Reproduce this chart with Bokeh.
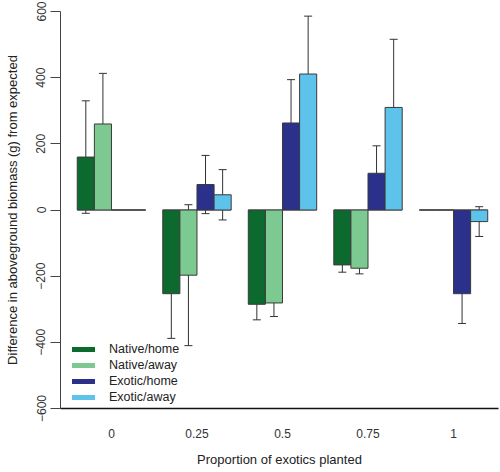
import numpy as np
from bokeh.plotting import figure
from bokeh.models import ColumnDataSource, Whisker, TeeHead, FixedTicker, Legend, LegendItem
from bokeh.embed import file_html
from bokeh.resources import INLINE

groups = ["0", "0.25", "0.5", "0.75", "1"]
series = ["Native/home", "Native/away", "Exotic/home", "Exotic/away"]

native_home = [160, -253, -285, -166, 0]
native_home_err = [170, 135, 47, 22, 0]
native_away = [260, -197, -281, -176, 0]
native_away_err = [153, 213, 41, 17, 0]
exotic_home = [0, 77, 263, 111, -253]
exotic_home_err = [0, 88, 131, 83, 90]
exotic_away = [0, 46, 411, 310, -35]
exotic_away_err = [0, 76, 175, 206, 45]

values = [native_home, native_away, exotic_home, exotic_away]
errors = [native_home_err, native_away_err, exotic_home_err, exotic_away_err]
colors = ["#0d6a2e", "#7cc992", "#2b308b", "#5ec3ea"]
offsets = [-0.3, -0.1, 0.1, 0.3]
FONT = "Liberation Sans"

p = figure(width=500, height=472, x_range=(-0.596, 4.526), y_range=(-600, 600),
           output_backend="svg", toolbar_location=None,
           min_border_top=11, min_border_left=60, min_border_right=2, min_border_bottom=64)
p.outline_line_color = None
p.xgrid.visible = False
p.ygrid.visible = False

gx = np.arange(len(groups))

# zero baseline segments for each group
p.segment(x0=gx - 0.4, x1=gx + 0.4, y0=np.zeros(len(groups)), y1=np.zeros(len(groups)),
          line_color="#555555", line_width=1)

for vals, errs, col, off in zip(values, errors, colors, offsets):
    xs = gx + off
    src = ColumnDataSource(dict(x=xs, top=vals))
    p.vbar(x="x", top="top", bottom=0, width=0.2, source=src,
           fill_color=col, line_color="#3a3a3a", line_width=1)
    wx, wu, wl = [], [], []
    for x, v, e in zip(xs, vals, errs):
        if e > 0:
            wx.append(x); wu.append(v + e); wl.append(v - e)
    wsrc = ColumnDataSource(dict(x=wx, upper=wu, lower=wl))
    w = Whisker(source=wsrc, base="x", upper="upper", lower="lower",
                line_color="#333333", line_width=1,
                upper_head=TeeHead(size=8, line_color="#333333", line_width=1),
                lower_head=TeeHead(size=8, line_color="#333333", line_width=1))
    p.add_layout(w)

# legend (line swatches)
items = []
for name, col in zip(series, colors):
    r = p.line(x=[np.nan], y=[np.nan], line_color=col, line_width=5, line_cap="round")
    items.append(LegendItem(label=name, renderers=[r]))
legend = Legend(items=items, location=(12, 4), border_line_color=None,
                background_fill_alpha=0, label_text_font_size="12.5px",
                label_text_font=FONT, label_text_color="#222222",
                glyph_width=23, glyph_height=14, label_height=14, spacing=2,
                padding=4, margin=0, label_standoff=14)
p.add_layout(legend)

# y axis
yax = p.yaxis[0]
yax.ticker = FixedTicker(ticks=[-600, -400, -200, 0, 200, 400, 600])
yax.major_label_orientation = "vertical"
yax.major_tick_out = 10
yax.major_tick_in = 0
yax.minor_tick_line_color = None
yax.axis_line_color = "#444444"
yax.major_tick_line_color = "#444444"
yax.major_label_standoff = 5
yax.major_label_text_font = FONT
yax.major_label_text_font_size = "12px"
yax.major_label_text_color = "#333333"
yax.axis_label = "Difference in aboveground biomass (g) from expected"
yax.axis_label_text_font = FONT
yax.axis_label_text_font_size = "13px"
yax.axis_label_text_font_style = "normal"
yax.axis_label_text_color = "#222222"
yax.axis_label_standoff = 14

# x axis
xax = p.xaxis[0]
xax.ticker = FixedTicker(ticks=list(gx))
xax.major_label_overrides = {int(i): g for i, g in zip(gx, groups)}
xax.major_tick_line_color = None
xax.major_tick_out = 0
xax.major_tick_in = 0
xax.minor_tick_line_color = None
xax.axis_line_color = "#111111"
xax.axis_line_width = 1.6
xax.major_label_standoff = 20
xax.major_label_text_font = FONT
xax.major_label_text_font_size = "12px"
xax.major_label_text_color = "#333333"
xax.axis_label = "Proportion of exotics planted"
xax.axis_label_text_font = FONT
xax.axis_label_text_font_size = "13px"
xax.axis_label_text_font_style = "normal"
xax.axis_label_text_color = "#222222"
xax.axis_label_standoff = 11

open("out.html", "w").write(file_html(p, INLINE))
